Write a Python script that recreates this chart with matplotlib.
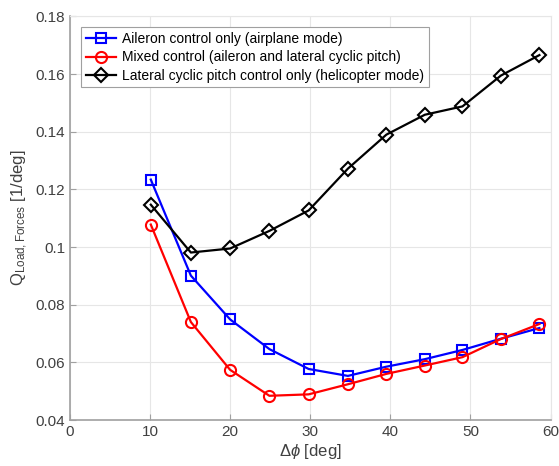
import matplotlib.pyplot as plt

plt.rcParams['font.family'] = ['Liberation Sans', 'DejaVu Sans']
plt.rcParams['mathtext.fontset'] = 'custom'
plt.rcParams['mathtext.rm'] = 'Liberation Sans'
plt.rcParams['mathtext.it'] = 'Liberation Sans:italic'

# data
dphi = [10.1, 15.1, 20.0, 24.9, 29.8, 34.7, 39.5, 44.3, 49.0, 53.8, 58.6]
aileron = [0.1234, 0.0901, 0.0749, 0.0646, 0.0577, 0.0553, 0.0585, 0.0611, 0.0643, 0.0682, 0.0719]
mixed = [0.1078, 0.0740, 0.0574, 0.0484, 0.0489, 0.0524, 0.0560, 0.0589, 0.0618, 0.0681, 0.0733]
cyclic = [0.1147, 0.0981, 0.0995, 0.1056, 0.1127, 0.1272, 0.1390, 0.1459, 0.1488, 0.1595, 0.1666]

labels = ['Aileron control only (airplane mode)',
          'Mixed control (aileron and lateral cyclic pitch)',
          'Lateral cyclic pitch control only (helicopter mode)']

fig = plt.figure(figsize=(5.59, 4.66), dpi=100)
ax = fig.add_axes([0.125, 0.0987, 0.86, 0.866])

ax.plot(dphi, aileron, '-s', color='#0000ff', lw=1.6, ms=7, mfc='none', mew=1.5, label=labels[0])
ax.plot(dphi, mixed, '-o', color='#ff0000', lw=1.6, ms=8, mfc='none', mew=1.5, label=labels[1])
ax.plot(dphi, cyclic, '-D', color='black', lw=1.6, ms=7, mfc='none', mew=1.5, label=labels[2])

ax.set_xlim(0, 60)
ax.set_ylim(0.04, 0.18)
ax.set_xticks(range(0, 61, 10))
ax.set_yticks([0.04, 0.06, 0.08, 0.1, 0.12, 0.14, 0.16, 0.18])
ax.set_yticklabels(['0.04', '0.06', '0.08', '0.1', '0.12', '0.14', '0.16', '0.18'])
ax.grid(True, color='#e6e6e6', lw=0.8)
ax.set_axisbelow(True)

for s in ['top', 'right']:
    ax.spines[s].set_color('#e6e6e6')
for s in ['bottom', 'left']:
    ax.spines[s].set_color('#a0a0a0')
    ax.spines[s].set_linewidth(1.2)
ax.tick_params(direction='in', length=4, color='#a0a0a0', labelcolor='#404040', labelsize=11)
ax.tick_params(top=False, right=False)

ax.set_xlabel(r'$\Delta\phi$ [deg]', fontsize=12, color='#404040', labelpad=2)
ax.set_ylabel(r'Q$_{\mathrm{Load,Forces}}$ [1/deg]', fontsize=12, color='#404040', labelpad=4)

leg = ax.legend(loc='upper left', bbox_to_anchor=(0.023, 0.973), borderaxespad=0, fontsize=10,
                fancybox=False, framealpha=1, edgecolor='#a0a0a0', handlelength=2.2,
                borderpad=0.35, labelspacing=0.3, handletextpad=0.4)
leg.get_frame().set_linewidth(0.8)

fig.savefig('out.png', dpi=100)
